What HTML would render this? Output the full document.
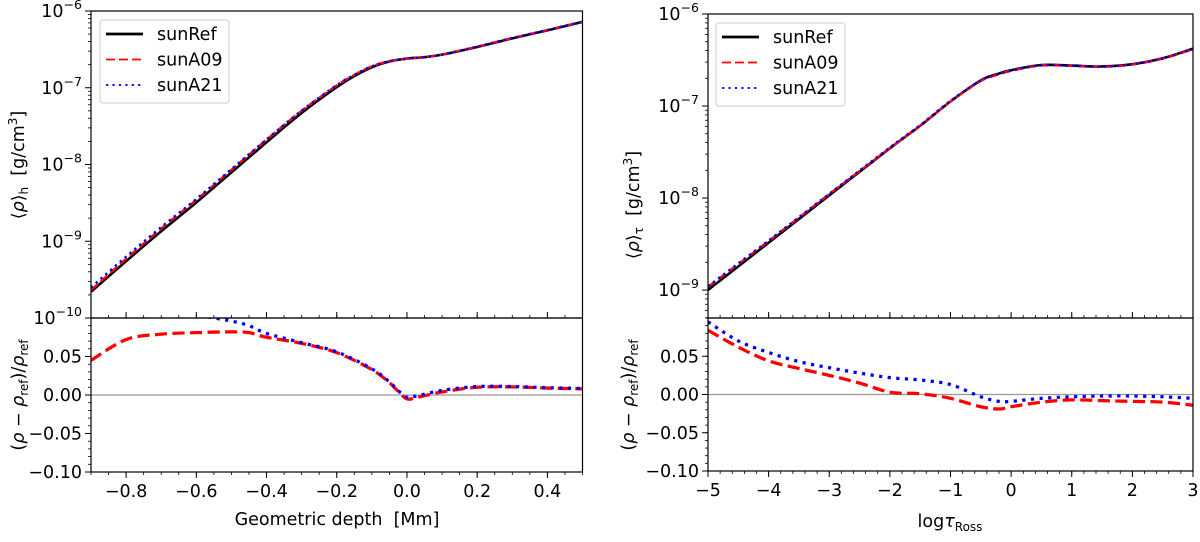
<!DOCTYPE html>
<html><head><meta charset="utf-8">
<style>
html,body{margin:0;padding:0;background:#fff;}
svg{display:block;font-family:"DejaVu Sans","Liberation Sans",sans-serif;}
</style></head>
<body>
<svg id="fig" width="1200" height="542" viewBox="0 0 1200 542" xmlns="http://www.w3.org/2000/svg"></svg>
<script>
// ---- Left panel data (geometric depth) ----
const depthX = [-0.9,-0.8,-0.7,-0.6,-0.5,-0.4,-0.3,-0.2,-0.15,-0.1,-0.05,0,0.05,0.1,0.2,0.3,0.4,0.5];
const rhoHRef = [2.2e-10,5.5e-10,1.35e-9,3.2e-9,7.9e-9,1.95e-8,4.7e-8,1.02e-7,1.42e-7,1.85e-7,2.2e-7,2.4e-7,2.5e-7,2.7e-7,3.4e-7,4.4e-7,5.6e-7,7.2e-7];
const rhoHA09 = [2.3e-10,5.9e-10,1.46e-9,3.45e-9,8.5e-9,2.1e-8,5.0e-8,1.07e-7,1.47e-7,1.9e-7,2.22e-7,2.39e-7,2.51e-7,2.71e-7,3.43e-7,4.44e-7,5.65e-7,7.25e-7];
const rhoHA21 = [2.5e-10,6.3e-10,1.53e-9,3.55e-9,8.7e-9,2.12e-8,5.03e-8,1.08e-7,1.47e-7,1.9e-7,2.22e-7,2.39e-7,2.51e-7,2.71e-7,3.43e-7,4.44e-7,5.65e-7,7.25e-7];
const diffHX = [-0.9,-0.8,-0.7,-0.6,-0.5,-0.45,-0.4,-0.3,-0.2,-0.1,-0.05,-0.03,0,0.03,0.1,0.2,0.3,0.4,0.5];
const diffHA09 = [0.045,0.072,0.079,0.081,0.082,0.081,0.075,0.067,0.055,0.033,0.016,0.007,-0.005,-0.003,0.004,0.010,0.0105,0.009,0.008];
const diffHA21 = [0.14,0.125,0.113,0.104,0.096,0.09,0.08,0.068,0.056,0.034,0.017,0.008,-0.003,-0.001,0.006,0.011,0.011,0.0095,0.0085];
// ---- Right panel data (log tau Ross) ----
const tauX = [-5,-4,-3,-2,-1.5,-1,-0.5,-0.25,0,0.5,1,1.5,2,2.5,3];
const rhoTRef = [1.0e-9,3.27e-9,1.07e-8,3.47e-8,6.1e-8,1.12e-7,1.9e-7,2.2e-7,2.45e-7,2.79e-7,2.75e-7,2.69e-7,2.85e-7,3.3e-7,4.2e-7];
const rhoTA09 = [1.08e-9,3.4e-9,1.1e-8,3.48e-8,6.1e-8,1.12e-7,1.87e-7,2.16e-7,2.41e-7,2.76e-7,2.73e-7,2.67e-7,2.83e-7,3.27e-7,4.15e-7];
const rhoTA21 = [1.1e-9,3.45e-9,1.11e-8,3.55e-8,6.2e-8,1.14e-7,1.9e-7,2.18e-7,2.43e-7,2.78e-7,2.74e-7,2.68e-7,2.84e-7,3.29e-7,4.18e-7];
const diffTX = [-5,-4.5,-4,-3.5,-3,-2.5,-2,-1.5,-1,-0.5,-0.2,0,0.5,1,1.5,2,2.5,3];
const diffTA09 = [0.084,0.062,0.044,0.034,0.025,0.015,0.003,0.001,-0.005,-0.016,-0.019,-0.016,-0.010,-0.007,-0.008,-0.009,-0.010,-0.014];
const diffTA21 = [0.095,0.07,0.055,0.043,0.035,0.028,0.022,0.019,0.013,-0.003,-0.009,-0.009,-0.005,-0.003,-0.002,-0.002,-0.003,-0.005];
// ---- Tick labels ----
const leftXTicks = [-0.8,-0.6,-0.4,-0.2,0.0,0.2,0.4];
const leftXTickLabels = ["\u22120.8","\u22120.6","\u22120.4","\u22120.2","0.0","0.2","0.4"];
const rightXTicks = [-5,-4,-3,-2,-1,0,1,2,3];
const rightXTickLabels = ["\u22125","\u22124","\u22123","\u22122","\u22121","0","1","2","3"];
const diffTicks = [0.05,0.0,-0.05,-0.10];
const diffTickLabels = ["0.05","0.00","\u22120.05","\u22120.10"];
const leftLogTicks = [-6,-7,-8,-9,-10];
const rightLogTicks = [-6,-7,-8,-9];

const NS="http://www.w3.org/2000/svg";
const svg=document.getElementById('fig');
function mk(tag,attrs,parent){const e=document.createElementNS(NS,tag);for(const k in attrs)e.setAttribute(k,attrs[k]);(parent||svg).appendChild(e);return e;}
function linScale(d0,d1,r0,r1){return v=>r0+(v-d0)/(d1-d0)*(r1-r0);}
function logScale(d0,d1,r0,r1){return v=>r0+(Math.log10(v)-d0)/(d1-d0)*(r1-r0);}
function smoothPath(pts){
  let d="M"+pts[0][0].toFixed(2)+","+pts[0][1].toFixed(2);
  for(let i=0;i<pts.length-1;i++){
    const p0=pts[Math.max(0,i-1)],p1=pts[i],p2=pts[i+1],p3=pts[Math.min(pts.length-1,i+2)];
    const c1x=p1[0]+(p2[0]-p0[0])/6,c1y=p1[1]+(p2[1]-p0[1])/6;
    const c2x=p2[0]-(p3[0]-p1[0])/6,c2y=p2[1]-(p3[1]-p1[1])/6;
    d+=" C"+c1x.toFixed(2)+","+c1y.toFixed(2)+" "+c2x.toFixed(2)+","+c2y.toFixed(2)+" "+p2[0].toFixed(2)+","+p2[1].toFixed(2);
  }
  return d;
}
const styles={
  ref:{stroke:"#000","stroke-width":2.6},
  a09:{stroke:"#f00","stroke-width":2.4,"stroke-dasharray":"9,4"},
  a21:{stroke:"#00f","stroke-width":2.4,"stroke-dasharray":"2.4,4"}
};
let clipId=0;
function clip(x0,y0,x1,y1){const id="c"+(clipId++);const cp=mk('clipPath',{id:id});mk('rect',{x:x0,y:y0,width:x1-x0,height:y1-y0},cp);return "url(#"+id+")";}
function drawSeries(g,xs,ys,sx,sy,st,name,wScale){
  const pts=xs.map((x,i)=>[sx(x),sy(ys[i])]);
  const a=Object.assign({d:smoothPath(pts),fill:"none"},st);
  if(wScale)a["stroke-width"]=st["stroke-width"]*wScale;
  if(wScale&&st["stroke-dasharray"]){a["stroke-dasharray"]=st["stroke-dasharray"].split(',').map(v=>v*wScale).join(',');}
  const p=mk('path',a,g);
  
  
}
function panel(cfg){
  const {x0,x1,yTop,yMid,yBot,xd0,xd1,logMin,logMax,logTicks,xTicks,xTickLabels,xMinorStep,prefix}=cfg;
  const sx=linScale(xd0,xd1,x0,x1);
  const sy=logScale(logMin,logMax,yMid,yTop);
  const sd=linScale(-0.1,0.1,yBot,yMid);
  const gTop=mk('g',{'clip-path':clip(x0,yTop,x1,yMid)});
  
  
  drawSeries(gTop,cfg.mx,cfg.ref,sx,sy,styles.ref,prefix+'-line-sunref');
  drawSeries(gTop,cfg.mx,cfg.a09,sx,sy,styles.a09,prefix+'-line-suna09');
  drawSeries(gTop,cfg.mx,cfg.a21,sx,sy,styles.a21,prefix+'-line-suna21');
  const gBot=mk('g',{'clip-path':clip(x0,yMid,x1,yBot)});
  
  
  const zl=mk('line',{x1:x0,x2:x1,y1:sd(0),y2:sd(0),stroke:"#999","stroke-width":1.3},gBot);
  
  
  drawSeries(gBot,cfg.dx,cfg.d09,sx,sd,styles.a09,prefix+'-diff-suna09',1.35);
  drawSeries(gBot,cfg.dx,cfg.d21,sx,sd,styles.a21,prefix+'-diff-suna21',1.35);
  mk('rect',{x:x0,y:yTop,width:x1-x0,height:yMid-yTop,fill:"none",stroke:"#000","stroke-width":1.2});
  mk('rect',{x:x0,y:yMid,width:x1-x0,height:yBot-yMid,fill:"none",stroke:"#000","stroke-width":1.2});
  const ax=mk('g',{});
  
  
  for(let L=Math.floor(logMin)-1;L<=logMax;L++){
    if(L>=logMin-0.001&&L<=logMax+0.001){
      const y=sy(Math.pow(10,L));
      mk('line',{x1:x0-6,x2:x0,y1:y,y2:y,stroke:"#000","stroke-width":1},ax);
    }
    for(let m=2;m<10;m++){const lv=L+Math.log10(m);if(lv>=logMin&&lv<=logMax){const y=sy(Math.pow(10,lv));mk('line',{x1:x0-3,x2:x0,y1:y,y2:y,stroke:"#000","stroke-width":0.8},ax);}}
  }
  logTicks.forEach(L=>{
    const y=sy(Math.pow(10,L));
    const t=mk('text',{x:x0-9,y:y+6,'text-anchor':'end','font-size':17.5,fill:"#000"},ax);
    
    
    const b=mk('tspan',{},t);b.textContent="10";
    const s=mk('tspan',{dy:-8,'font-size':12.5},t);s.textContent="\u2212"+(-L);
  });
  for(let v=-0.1;v<=0.1001;v+=0.01){const y=sd(v);mk('line',{x1:x0-3,x2:x0,y1:y,y2:y,stroke:"#000","stroke-width":0.8},ax);}
  diffTicks.forEach((v,i)=>{
    const y=sd(v);
    mk('line',{x1:x0-6,x2:x0,y1:y,y2:y,stroke:"#000","stroke-width":1},ax);
    const t=mk('text',{x:x0-9,y:y+6,'text-anchor':'end','font-size':17.5,fill:"#000"},ax);
    
    
    t.textContent=diffTickLabels[i];
  });
  const n=Math.round((xd1-xd0)/xMinorStep);
  for(let i=0;i<=n;i++){const v=xd0+i*xMinorStep;const x=sx(v);
    mk('line',{x1:x,x2:x,y1:yBot,y2:yBot+3,stroke:"#000","stroke-width":0.8},ax);
    mk('line',{x1:x,x2:x,y1:yMid,y2:yMid-3,stroke:"#000","stroke-width":0.8},ax);}
  xTicks.forEach((v,i)=>{
    const x=sx(v);
    mk('line',{x1:x,x2:x,y1:yBot,y2:yBot+6,stroke:"#000","stroke-width":1},ax);
    mk('line',{x1:x,x2:x,y1:yMid,y2:yMid-6,stroke:"#000","stroke-width":1},ax);
    const t=mk('text',{x:x,y:yBot+25,'text-anchor':'middle','font-size':17.5,fill:"#000"},ax);
    
    
    t.textContent=xTickLabels[i];
  });
  const lg=mk('g',{});
  
  
  const lx=cfg.legX,ly=cfg.legY;
  mk('rect',{x:lx,y:ly,width:129,height:83,rx:3,fill:"#fff",stroke:"#ccc","stroke-width":1},lg);
  [["sunRef",styles.ref],["sunA09",styles.a09],["sunA21",styles.a21]].forEach((e,i)=>{
    const y=ly+14+i*25.5;
    const ln=mk('line',Object.assign({x1:lx+6,x2:lx+43,y1:y,y2:y},e[1],{"stroke-width":e[1]["stroke-width"]*(i==0?1.1:0.75)}),lg);
    
    
    const t=mk('text',{x:lx+57,y:y+6,'font-size':17.5,fill:"#000"},lg);
    
    
    t.textContent=e[0];
  });
}
panel({prefix:'left',x0:91,x1:582.5,yTop:11,yMid:318,yBot:472,xd0:-0.9,xd1:0.5,logMin:-10,logMax:-6,logTicks:leftLogTicks,
  xTicks:leftXTicks,xTickLabels:leftXTickLabels,xMinorStep:0.05,mx:depthX,ref:rhoHRef,a09:rhoHA09,a21:rhoHA21,
  dx:diffHX,d09:diffHA09,d21:diffHA21,legX:100,legY:20});
panel({prefix:'right',x0:708,x1:1193,yTop:14,yMid:318,yBot:471,xd0:-5,xd1:3,logMin:-9.304,logMax:-6,logTicks:rightLogTicks,
  xTicks:rightXTicks,xTickLabels:rightXTickLabels,xMinorStep:0.2,mx:tauX,ref:rhoTRef,a09:rhoTA09,a21:rhoTA21,
  dx:diffTX,d09:diffTA09,d21:diffTA21,legX:716,legY:23});

function title(x,y,rot,html,name){
  const t=mk('text',{x:x,y:y,'text-anchor':'middle','font-size':17.5,fill:"#000",transform:rot?`rotate(-90 ${x} ${y})`:''});
  
  
  t.innerHTML=html;
}
title(24,165,true,'⟨<tspan font-style="italic">ρ</tspan>⟩<tspan font-size="12" dy="4">h</tspan><tspan dy="-4">\u00a0\u00a0[g/cm</tspan><tspan font-size="12" dy="-7">3</tspan><tspan dy="7">]</tspan>','left-y-axis-title');
title(639,205,true,'⟨<tspan font-style="italic">ρ</tspan>⟩<tspan font-size="12" dy="4">τ</tspan><tspan dy="-4">\u00a0\u00a0[g/cm</tspan><tspan font-size="12" dy="-7">3</tspan><tspan dy="7">]</tspan>','right-y-axis-title');
const dt='(<tspan font-style="italic">ρ</tspan> − <tspan font-style="italic">ρ</tspan><tspan font-size="12" dy="4">ref</tspan><tspan dy="-4">)/</tspan><tspan font-style="italic">ρ</tspan><tspan font-size="12" dy="4">ref</tspan>';
title(24,395,true,dt,'left-diff-y-axis-title');
title(634,395,true,dt,'right-diff-y-axis-title');
title(337,525,false,'Geometric depth\u00a0\u00a0[Mm]','left-x-axis-title');
title(950,527,false,'log<tspan font-style="italic">τ</tspan><tspan font-size="12" dy="4">Ross</tspan>','right-x-axis-title');
</script>
</body></html>
